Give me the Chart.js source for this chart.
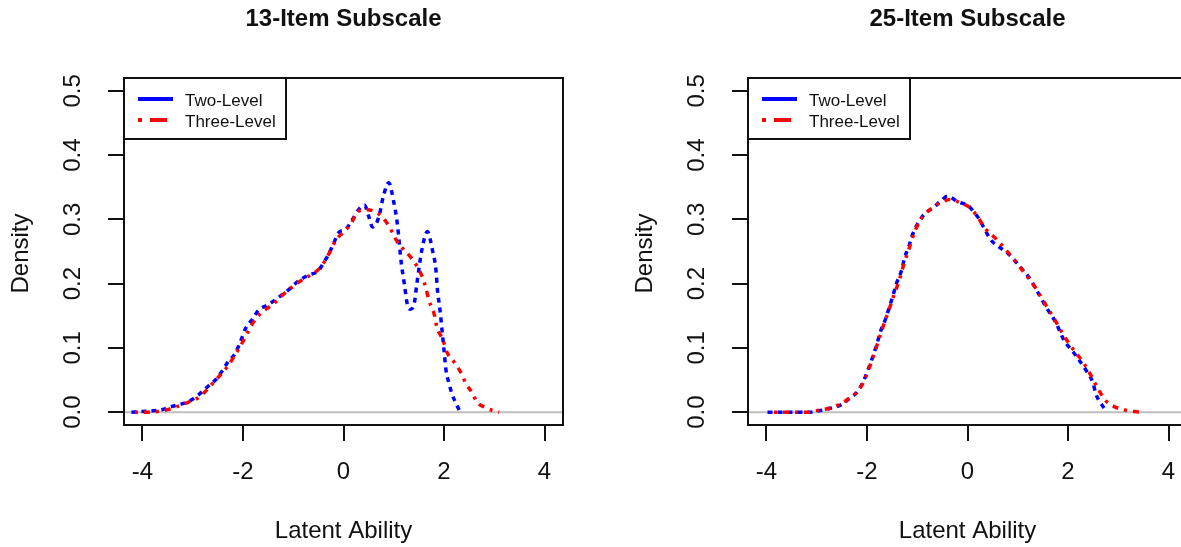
<!DOCTYPE html>
<html>
<head>
<meta charset="utf-8">
<title>Latent Ability Density</title>
<script src="https://cdn.jsdelivr.net/npm/chart.js@4.4.1/dist/chart.umd.min.js"></script>
<style>
  html, body { margin: 0; padding: 0; background: #fff; overflow: hidden; }
  #wrap { position: relative; width: 1250px; height: 547px; }
  .panel { position: absolute; top: 0; width: 625px; height: 547px; }
</style>
</head>
<body>
<div id="wrap">
  <div class="panel" style="left:0px"><canvas id="chart13" width="625" height="547"></canvas></div>
  <div class="panel" style="left:624px"><canvas id="chart25" width="625" height="547"></canvas></div>
</div>
<script>
// axis ticks (same for both panels)
var xTickValues = [-4, -2, 0, 2, 4];
var xTickLabels = ['-4', '-2', '0', '2', '4'];
var yTickValues = [0, 0.1, 0.2, 0.3, 0.4, 0.5];
var yTickLabels = ['0.0', '0.1', '0.2', '0.3', '0.4', '0.5'];
var seriesNames = ['Two-Level', 'Three-Level'];

// 13-item subscale
var twoLevel13X = [-4.22,-4.0,-3.8,-3.6,-3.45,-3.25,-3.05,-2.9,-2.7,-2.55,-2.45,-2.3,-2.15,-2.05,-1.95,-1.8,-1.7,-1.5,-1.3,-1.1,-0.9,-0.7,-0.5,-0.4,-0.3,-0.2,-0.1,0.05,0.15,0.3,0.42,0.5,0.58,0.7,0.8,0.9,1.0,1.07,1.15,1.21,1.27,1.33,1.41,1.46,1.57,1.67,1.77,1.84,1.87,1.92,1.96,2.0,2.04,2.1,2.16,2.25,2.32];
var twoLevel13Y = [0,0.001,0.002,0.004,0.008,0.012,0.018,0.026,0.04,0.05,0.06,0.078,0.092,0.11,0.13,0.146,0.158,0.167,0.178,0.19,0.204,0.213,0.22,0.232,0.245,0.262,0.279,0.285,0.296,0.315,0.322,0.305,0.288,0.303,0.338,0.357,0.327,0.294,0.232,0.2,0.168,0.16,0.17,0.2,0.257,0.281,0.252,0.221,0.19,0.159,0.128,0.097,0.065,0.045,0.028,0.012,0.0];
var threeLevel13X = [-4.15,-3.9,-3.7,-3.5,-3.3,-3.1,-2.9,-2.75,-2.6,-2.45,-2.3,-2.15,-2.0,-1.9,-1.75,-1.6,-1.4,-1.2,-1.0,-0.8,-0.6,-0.45,-0.3,-0.15,0.0,0.15,0.28,0.46,0.67,0.85,0.97,1.07,1.21,1.35,1.47,1.57,1.64,1.7,1.8,1.86,1.98,2.06,2.2,2.34,2.44,2.57,2.65,2.8,2.95,3.1];
var threeLevel13Y = [0,0,0.001,0.004,0.009,0.015,0.022,0.032,0.045,0.058,0.072,0.09,0.11,0.125,0.145,0.157,0.168,0.183,0.196,0.207,0.216,0.226,0.245,0.268,0.28,0.293,0.312,0.315,0.31,0.296,0.28,0.265,0.252,0.24,0.226,0.21,0.193,0.174,0.154,0.132,0.112,0.093,0.078,0.061,0.044,0.029,0.016,0.008,0.003,0.0];

// 25-item subscale
var twoLevel25X = [-3.98,-3.7,-3.45,-3.15,-2.9,-2.73,-2.5,-2.34,-2.2,-2.06,-1.96,-1.86,-1.8,-1.72,-1.64,-1.56,-1.47,-1.41,-1.31,-1.25,-1.17,-1.11,-0.97,-0.87,-0.67,-0.51,-0.4,-0.18,0.02,0.12,0.22,0.32,0.44,0.5,0.63,0.83,1.07,1.23,1.41,1.56,1.76,1.92,2.1,2.22,2.36,2.5,2.55,2.61,2.75];
var twoLevel25Y = [0,0,0,0,0.003,0.006,0.012,0.022,0.031,0.05,0.07,0.092,0.107,0.128,0.143,0.162,0.185,0.201,0.221,0.241,0.257,0.273,0.296,0.307,0.319,0.33,0.336,0.327,0.321,0.312,0.302,0.288,0.271,0.265,0.257,0.245,0.224,0.209,0.185,0.164,0.139,0.112,0.094,0.081,0.065,0.045,0.029,0.019,0.003];
var threeLevel25X = [-3.85,-3.55,-3.2,-2.95,-2.75,-2.55,-2.38,-2.22,-2.08,-1.96,-1.86,-1.76,-1.66,-1.56,-1.46,-1.36,-1.26,-1.16,-1.04,-0.9,-0.7,-0.5,-0.35,-0.15,0.05,0.2,0.35,0.55,0.75,0.95,1.15,1.35,1.55,1.75,1.95,2.15,2.3,2.45,2.6,2.75,2.91,3.15,3.41];
var threeLevel25Y = [0,0,0,0.003,0.006,0.012,0.02,0.03,0.045,0.068,0.09,0.114,0.138,0.16,0.183,0.205,0.232,0.255,0.283,0.303,0.318,0.327,0.331,0.326,0.318,0.304,0.286,0.271,0.254,0.235,0.215,0.194,0.168,0.142,0.115,0.093,0.078,0.058,0.036,0.018,0.009,0.003,0];

var FONT = '"Liberation Sans", Arial, sans-serif';
var INK = '#111';

function toPoints(xs, ys) {
  var pts = [];
  for (var i = 0; i < xs.length; i++) pts.push({ x: xs[i], y: ys[i] });
  return pts;
}

// R-like frame: gray zero line, box, labels, legend
var rStyle = {
  id: 'rStyle',
  beforeDatasetsDraw: function (chart) {
    var ctx = chart.ctx, a = chart.chartArea;
    var y0 = chart.scales.y.getPixelForValue(0);
    ctx.save();
    ctx.strokeStyle = '#bebebe';
    ctx.lineWidth = 2;
    ctx.beginPath();
    ctx.moveTo(a.left, y0);
    ctx.lineTo(a.right, y0);
    ctx.stroke();
    ctx.restore();
  },
  afterDraw: function (chart) {
    var ctx = chart.ctx, a = chart.chartArea;
    var xs = chart.scales.x, ys = chart.scales.y;
    var o = chart.options.plugins.rStyle;
    var i;
    ctx.save();

    // box
    ctx.strokeStyle = INK;
    ctx.lineWidth = 2;
    ctx.strokeRect(a.left, a.top, a.right - a.left, a.bottom - a.top);

    ctx.fillStyle = INK;
    ctx.textAlign = 'center';
    ctx.textBaseline = 'middle';

    // title
    ctx.font = 'bold 24px ' + FONT;
    ctx.fillText(o.title, (a.left + a.right) / 2, 19);

    // x tick labels + title
    ctx.font = '24px ' + FONT;
    for (i = 0; i < xTickValues.length; i++) {
      ctx.fillText(xTickLabels[i], xs.getPixelForValue(xTickValues[i]), 472);
    }
    ctx.fillText('Latent Ability', (a.left + a.right) / 2, 531);

    // y tick labels, rotated like R
    for (i = 0; i < yTickValues.length; i++) {
      ctx.save();
      ctx.translate(73, ys.getPixelForValue(yTickValues[i]));
      ctx.rotate(-Math.PI / 2);
      ctx.fillText(yTickLabels[i], 0, 0);
      ctx.restore();
    }
    ctx.save();
    ctx.translate(21, (a.top + a.bottom) / 2 + 2);
    ctx.rotate(-Math.PI / 2);
    ctx.fillText('Density', 0, 0);
    ctx.restore();

    // legend
    var lx = a.left, ly = a.top, lw = 162, lh = 61;
    ctx.fillStyle = '#fff';
    ctx.fillRect(lx, ly, lw, lh);
    ctx.strokeStyle = INK;
    ctx.lineWidth = 2;
    ctx.strokeRect(lx, ly, lw, lh);
    ctx.font = '17px ' + FONT;
    ctx.textAlign = 'left';
    chart.data.datasets.forEach(function (ds, k) {
      var yy = ly + 21 + k * 21;
      ctx.strokeStyle = ds.borderColor;
      ctx.lineWidth = 4;
      ctx.setLineDash(ds.legendDash);
      ctx.beginPath();
      ctx.moveTo(lx + 14, yy);
      ctx.lineTo(lx + 49, yy);
      ctx.stroke();
      ctx.setLineDash([]);
      ctx.fillStyle = INK;
      ctx.fillText(ds.label, lx + 61, yy + 2);
    });
    ctx.restore();
  }
};

function makePanel(id, title, twoX, twoY, threeX, threeY) {
  return new Chart(document.getElementById(id), {
    type: 'line',
    data: {
      datasets: [{
        label: seriesNames[0],
        data: toPoints(twoX, twoY),
        borderColor: '#0000ff',
        borderWidth: 3.5,
        borderDash: [5, 5],
        legendDash: [],
        pointRadius: 0,
        fill: false,
        cubicInterpolationMode: 'monotone',
        order: 2
      }, {
        label: seriesNames[1],
        data: toPoints(threeX, threeY),
        borderColor: '#ff0000',
        borderWidth: 3.5,
        borderDash: [3, 6, 6, 6],
        legendDash: [4, 8, 17, 8],
        pointRadius: 0,
        fill: false,
        cubicInterpolationMode: 'monotone',
        order: 1
      }]
    },
    options: {
      responsive: false,
      animation: false,
      events: [],
      layout: { padding: { left: 0, top: 78, right: 62, bottom: 0 } },
      plugins: {
        legend: { display: false },
        tooltip: { enabled: false },
        title: { display: false },
        rStyle: { title: title }
      },
      scales: {
        x: {
          type: 'linear',
          min: -4.368,
          max: 4.368,
          border: { display: false },
          grid: { drawOnChartArea: false, drawTicks: true, tickLength: 16, color: INK, lineWidth: 2 },
          ticks: { display: false },
          afterBuildTicks: function (s) { s.ticks = xTickValues.map(function (v) { return { value: v }; }); },
          afterFit: function (s) { s.height = 122; }
        },
        y: {
          type: 'linear',
          min: -0.02,
          max: 0.52,
          border: { display: false },
          grid: { drawOnChartArea: false, drawTicks: true, tickLength: 16, color: INK, lineWidth: 2 },
          ticks: { display: false },
          afterBuildTicks: function (s) { s.ticks = yTickValues.map(function (v) { return { value: v }; }); },
          afterFit: function (s) { s.width = 124; }
        }
      }
    },
    plugins: [rStyle]
  });
}

makePanel('chart13', '13-Item Subscale', twoLevel13X, twoLevel13Y, threeLevel13X, threeLevel13Y);
makePanel('chart25', '25-Item Subscale', twoLevel25X, twoLevel25Y, threeLevel25X, threeLevel25Y);
</script>
</body>
</html>
